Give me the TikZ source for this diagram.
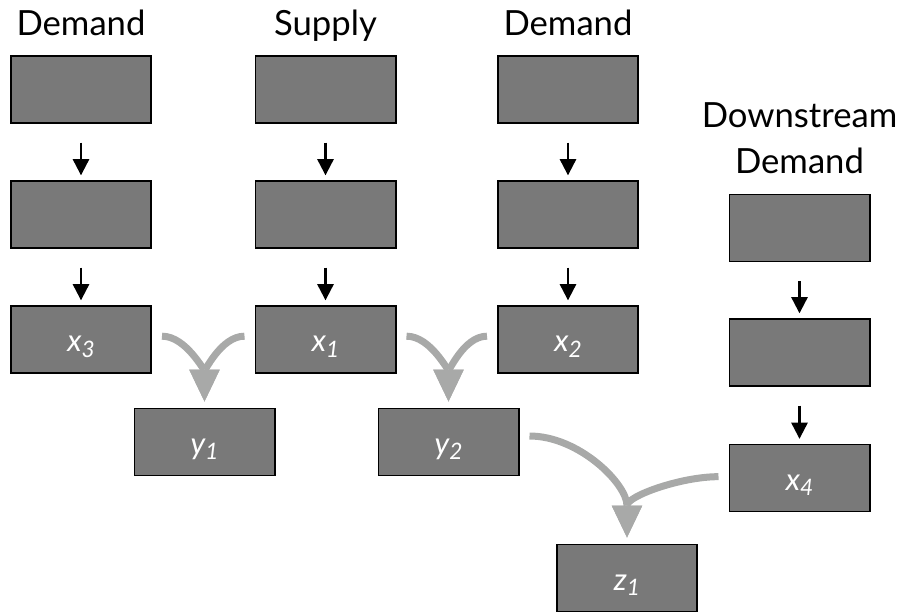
\documentclass[tikz,border=0pt]{standalone}
\usepackage{fontspec}
\setmainfont{Lato}
\usetikzlibrary{arrows.meta}

\newcommand{\vlabel}[2]{#1\raisebox{-0.35ex}{\fontsize{17}{17}\selectfont #2}}

\tikzset{every picture/.style={line width=0.75pt}}
\tikzset{
  cell/.style={draw=black, line width=1.2pt, fill={rgb, 255:red, 121; green, 121; blue, 121}, minimum width=105.3pt, minimum height=50.5pt, inner sep=0pt, text height=18.5pt, text depth=0pt, text=white, font=\fontsize{23}{27}\selectfont\itshape},
  feed/.style={-{Triangle[width=12.5pt,length=12pt,line width=0pt]}, line width=2.2pt, shorten <=14pt, shorten >=3.6pt},
  merge/.style={-{Triangle[width=23pt,length=24pt,line width=0pt]}, draw={rgb, 255:red, 168; green, 169; blue, 168}, line width=5.25pt, shorten <=7.5pt, shorten >=4.5pt},
  head/.style={font=\fontsize{26}{34.5}\selectfont, inner sep=0pt, align=center}
}

\begin{document}
\begin{tikzpicture}[x=0.75pt,y=0.75pt,yscale=-1,xscale=1]
\useasboundingbox (0,0) rectangle (908,615);

% Text Node
\draw (81,35) node [head, anchor=base] (dmdA) {Demand};
% Text Node
\draw (325.5,35) node [head, anchor=base] (sup) {Supply};
% Text Node
\draw (568,35) node [head, anchor=base] (dmdB) {Demand};
% Text Node
\draw (799.5,173) node [head, anchor=base] (down) {Downstream\\Demand};

%Shape: Rectangle columns
\draw (81,89.5) node [cell] (a1) {};
\draw (81,214.5) node [cell] (a2) {};
\draw (81,339.5) node [cell] (x3) {\vlabel{x}{3}};
\draw (325.5,89.5) node [cell] (b1) {};
\draw (325.5,214.5) node [cell] (b2) {};
\draw (325.5,339.5) node [cell] (x1) {\vlabel{x}{1}};
\draw (568,89.5) node [cell] (c1) {};
\draw (568,214.5) node [cell] (c2) {};
\draw (568,339.5) node [cell] (x2) {\vlabel{x}{2}};
\draw (799.5,228) node [cell] (d1) {};
\draw (799.5,352.5) node [cell] (d2) {};
\draw (799.5,478) node [cell] (x4) {\vlabel{x}{4}};

%Shape: Rectangle results
\draw (204.5,442) node [cell] (y1) {\vlabel{y}{1}};
\draw (448.5,442) node [cell] (y2) {\vlabel{y}{2}};
\draw (627,578) node [cell] (z1) {\vlabel{z}{1}};

% Straight Lines
\foreach \u/\v in {a1/a2,a2/x3,b1/b2,b2/x1,c1/c2,c2/x2,d1/d2,d2/x4}
  \draw [feed] (\u) -- (\v);

% Curve Lines
\draw [merge] ([yshift=-2.5pt]x3.east) to[out=0,in=-90] (y1.north);
\draw [merge] ([yshift=-2.5pt]x1.west) to[out=180,in=-90] (y1.north);
\draw [merge] ([yshift=-2.5pt]x1.east) to[out=0,in=-90] (y2.north);
\draw [merge] ([yshift=-2.5pt]x2.west) to[out=180,in=-90] (y2.north);
\draw [merge] ([yshift=-4.5pt]y2.east) to[out=0,in=-90] (z1.north);
\draw [merge] ([yshift=-1pt]x4.west) to[out=180,in=-90] (z1.north);

\end{tikzpicture}
\end{document}
